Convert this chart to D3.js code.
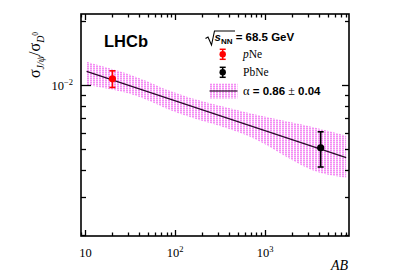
<!DOCTYPE html>
<html><head><meta charset="utf-8">
<script src="https://cdn.jsdelivr.net/npm/d3@7"></script>
<style>
html,body{margin:0;padding:0;background:#fff;}
svg{display:block;}
</style></head>
<body>
<script>
// ---- data ----
const categories = ["pNe", "PbNe"];
const abValues = [20, 4160];
const ratioValues = [0.0107, 0.00509];
const ratioErrUp = [0.00096, 0.00096];
const ratioErrDown = [0.00095, 0.00095];
const seriesColors = ["#ff0000", "#000000"];

const fitAB = [10.3, 8000];
const fitRatio = [0.01160, 0.00458];

const bandAB = [10.3, 40, 87, 680, 4160, 8000];
const bandUpper = [0.01285, 0.01078, 0.0094, 0.00738, 0.00623, 0.0058];
const bandLower = [0.0100, 0.00879, 0.00764, 0.00573, 0.00388, 0.00369];

const xMajorTicks = [10, 100, 1000];
const xTickLabels = [["10", ""], ["10", "2"], ["10", "3"]];
const yMajorTicks = [0.01];
const yTickLabels = [["10", "\u22122"]];

(function () {
const W = 407, H = 278;
const svg = d3.select("body").append("svg").attr("width", W).attr("height", H);

const pL = 81, pR = 349, pT = 14, pB = 236;
const x = d3.scaleLog().domain([8.93, 8600]).range([pL, pR]);
const y = d3.scaleLog().domain([0.00197, 0.0215]).range([pB, pT]);

// hatch pattern
const defs = svg.append("defs");
const pat = defs.append("pattern").attr("id", "hatch").attr("patternUnits", "userSpaceOnUse")
  .attr("width", 3).attr("height", 2);
pat.append("rect").attr("x", 0).attr("y", 0).attr("width", 3).attr("height", 2).attr("fill", "#ffffff");
pat.append("rect").attr("x", 0).attr("y", 0).attr("width", 2).attr("height", 1).attr("fill", "#f48cf4");
pat.append("rect").attr("x", 0).attr("y", 1).attr("width", 2).attr("height", 1).attr("fill", "#f8c4f8");

defs.append("clipPath").attr("id", "clip").append("rect")
  .attr("x", pL).attr("y", pT).attr("width", pR - pL).attr("height", pB - pT);

const g = svg.append("g").attr("clip-path", "url(#clip)");

// band
const bandData = bandAB.map((a, i) => ({a, u: bandUpper[i], l: bandLower[i]}));
g.append("path").datum(bandData)
  .attr("d", d3.area().x(d => x(d.a)).y0(d => y(d.l)).y1(d => y(d.u)).curve(d3.curveMonotoneX))
  .attr("fill", "url(#hatch)");

// fit line
g.append("path").datum(fitAB.map((a, i) => [a, fitRatio[i]]))
  .attr("d", d3.line().x(d => x(d[0])).y(d => y(d[1])))
  .attr("stroke", "#2a0a2a").attr("stroke-width", 1.2).attr("fill", "none");

// points
categories.forEach((c, i) => {
  const cx = x(abValues[i]);
  const col = seriesColors[i];
  const yu = y(ratioValues[i] + ratioErrUp[i]), yl = y(ratioValues[i] - ratioErrDown[i]);
  svg.append("line").attr("x1", cx).attr("x2", cx).attr("y1", yu).attr("y2", yl)
    .attr("stroke", col).attr("stroke-width", 1.6);
  [yu, yl].forEach(yy => svg.append("line").attr("x1", cx - 3).attr("x2", cx + 3).attr("y1", yy).attr("y2", yy)
    .attr("stroke", col).attr("stroke-width", 1.6));
  svg.append("circle").attr("cx", cx).attr("cy", y(ratioValues[i])).attr("r", 3.6).attr("fill", col);
});

function minorTicks(dom) {
  const out = [];
  const lo = Math.floor(Math.log10(dom[0])), hi = Math.ceil(Math.log10(dom[1]));
  for (let e = lo; e <= hi; e++) for (let k = 2; k <= 9; k++) {
    const v = k * Math.pow(10, e);
    if (v >= dom[0] && v <= dom[1]) out.push(v);
  }
  return out;
}
const xMinor = minorTicks(x.domain());
const yMinor = minorTicks(y.domain());

const tg = svg.append("g").attr("stroke", "#000").attr("stroke-width", 1.3);
function xTicks(vals, len) {
  vals.forEach(v => {
    const px = Math.round(x(v)) + 0.5;
    tg.append("line").attr("x1", px).attr("x2", px).attr("y1", pB).attr("y2", pB - len);
    tg.append("line").attr("x1", px).attr("x2", px).attr("y1", pT).attr("y2", pT + len);
  });
}
function yTicks(vals, lenL, lenR) {
  vals.forEach(v => {
    const py = Math.round(y(v)) + 0.5;
    tg.append("line").attr("x1", pL).attr("x2", pL + lenL).attr("y1", py).attr("y2", py);
    tg.append("line").attr("x1", pR).attr("x2", pR - lenR).attr("y1", py).attr("y2", py);
  });
}
xTicks(xMinor, 3.5);
xTicks(xMajorTicks, 6);
yTicks(yMinor, 5, 4);
yTicks(yMajorTicks, 10, 7);

svg.append("rect").attr("x", pL).attr("y", pT).attr("width", pR - pL).attr("height", pB - pT)
  .attr("fill", "none").attr("stroke", "#000").attr("stroke-width", 1.6);

const serif = "'Liberation Serif', 'Times New Roman', serif";
const sans = "'Liberation Sans', Arial, sans-serif";
xMajorTicks.forEach((v, i) => {
  const t = svg.append("text").attr("x", x(v)).attr("y", 256.5).attr("text-anchor", "middle")
    .attr("font-family", serif).attr("font-size", 12.5).attr("fill", "#000");
  t.append("tspan").text(xTickLabels[i][0]);
  if (xTickLabels[i][1]) t.append("tspan").attr("dy", -5).attr("font-size", 8.5).text(xTickLabels[i][1]);
});
yMajorTicks.forEach((v, i) => {
  const t = svg.append("text").attr("x", 73).attr("y", y(v) + 4.5).attr("text-anchor", "end")
    .attr("font-family", serif).attr("font-size", 12.5).attr("fill", "#000");
  t.append("tspan").text(yTickLabels[i][0]);
  t.append("tspan").attr("dy", -5).attr("font-size", 8.5).text(yTickLabels[i][1]);
});

svg.append("text").attr("x", 348).attr("y", 270).attr("text-anchor", "end")
  .attr("font-family", serif).attr("font-style", "italic").attr("font-size", 14).text("AB");

const ylab = svg.append("text").attr("transform", "translate(40,78) rotate(-90)")
  .attr("font-family", serif).attr("font-size", 16).attr("text-anchor", "start");
ylab.append("tspan").text("σ");
ylab.append("tspan").attr("dy", 4).attr("font-size", 10).attr("font-style", "italic").text("J/ψ");
ylab.append("tspan").attr("dy", -4).text("/");
ylab.append("tspan").text("σ");
ylab.append("tspan").attr("dy", 4).attr("font-size", 10).attr("font-style", "italic").text("D");
ylab.append("tspan").attr("dy", -6).attr("font-size", 7.5).text("0");

svg.append("text").attr("x", 104).attr("y", 47).attr("font-family", sans).attr("font-weight", "bold")
  .attr("font-size", 16.5).text("LHCb");

svg.append("path").attr("d", "M205.5,38.5 L208,37 L211.5,45 L214.5,31 H235")
  .attr("fill", "none").attr("stroke", "#000").attr("stroke-width", 1.1);
const hd = svg.append("text").attr("x", 214.5).attr("y", 40.5).attr("font-family", sans)
  .attr("font-weight", "bold").attr("font-size", 11.5);
hd.append("tspan").attr("font-style", "italic").text("s");
hd.append("tspan").attr("dy", 3).attr("font-size", 8).text("NN");
hd.append("tspan").attr("dy", -3).text(" = 68.5 GeV");

const legY = [54.3, 72.3];
categories.forEach((c, i) => {
  const cx = 222.7, cy = legY[i], col = seriesColors[i];
  svg.append("line").attr("x1", cx).attr("x2", cx).attr("y1", cy - 5).attr("y2", cy + 5).attr("stroke", col).attr("stroke-width", 1.5);
  [cy - 5, cy + 5].forEach(yy => svg.append("line").attr("x1", cx - 3).attr("x2", cx + 3).attr("y1", yy).attr("y2", yy).attr("stroke", col).attr("stroke-width", 1.5));
  svg.append("circle").attr("cx", cx).attr("cy", cy).attr("r", 3.2).attr("fill", col);
  const t = svg.append("text").attr("x", 243).attr("y", cy + 4).attr("font-family", serif).attr("font-size", 11.5);
  if (c === "pNe") { t.append("tspan").attr("font-style", "italic").text("p"); t.append("tspan").text("Ne"); }
  else t.text(c);
});
svg.append("rect").attr("x", 209.5).attr("y", 83.5).attr("width", 28).attr("height", 15).attr("fill", "url(#hatch)");
svg.append("line").attr("x1", 209.5).attr("x2", 237.5).attr("y1", 91).attr("y2", 91).attr("stroke", "#2a0a2a").attr("stroke-width", 1.2);
const at = svg.append("text").attr("x", 243).attr("y", 95).attr("font-size", 11.5);
at.append("tspan").attr("font-family", serif).attr("font-size", 12.5).text("α");
at.append("tspan").attr("font-family", sans).attr("font-weight", "bold").text(" = 0.86 ");
at.append("tspan").attr("font-family", serif).attr("font-size", 12).text("±");
at.append("tspan").attr("font-family", sans).attr("font-weight", "bold").text(" 0.04");
})();
</script>
</body></html>
